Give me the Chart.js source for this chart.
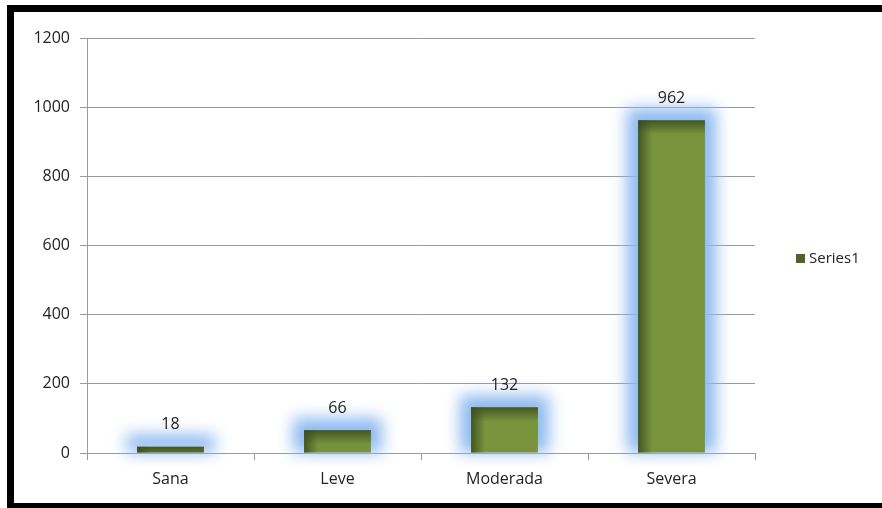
<!DOCTYPE html>
<html>
<head>
<meta charset="utf-8">
<script src="https://cdn.jsdelivr.net/npm/chart.js@4/dist/chart.umd.min.js"></script>
<style>
  html, body { margin: 0; padding: 0; background: #fff; }
  #wrap { position: relative; width: 882px; height: 508px; overflow: hidden; }
  #frame { position: absolute; left: 7px; top: 5px; width: 900px; height: 505px;
           border: 7px solid #000; box-sizing: border-box; pointer-events: none; }
  canvas { position: absolute; left: 0; top: 0; }
</style>
</head>
<body>
<div id="wrap">
  <canvas id="c" width="882" height="508"></canvas>
  <div id="frame"></div>
</div>
<script>
const categories = ['Sana', 'Leve', 'Moderada', 'Severa'];
const series1 = [18, 66, 132, 962];
const seriesName = 'Series1';
const yMax = 1200;
const yStep = 200;

const FONT = '"Open Sans", "Noto Sans", sans-serif';

// soft blue halo behind each bar
const glowPlugin = {
  id: 'glow',
  beforeDatasetsDraw(chart) {
    const ctx = chart.ctx;
    const meta = chart.getDatasetMeta(0);
    ctx.save();
    ctx.filter = 'blur(8px)';
    ctx.fillStyle = 'rgba(140,185,240,1)';
    meta.data.forEach(bar => {
      const w = bar.width, x0 = bar.x - w / 2;
      const top = Math.min(bar.y, bar.base), bot = Math.max(bar.y, bar.base);
      ctx.fillRect(x0 - 11, top - 12, w + 22, bot - top + 12);
    });
    ctx.restore();
  },
  afterDatasetsDraw(chart) {
    // darker inner shading on the left and top edges of each bar
    const ctx = chart.ctx;
    const meta = chart.getDatasetMeta(0);
    ctx.save();
    meta.data.forEach(bar => {
      const w = bar.width, x0 = bar.x - w / 2;
      const top = Math.min(bar.y, bar.base), bot = Math.max(bar.y, bar.base);
      const h = bot - top;
      const gl = ctx.createLinearGradient(x0, 0, x0 + 14, 0);
      gl.addColorStop(0, 'rgba(60,75,30,0.85)');
      gl.addColorStop(1, 'rgba(60,75,30,0)');
      ctx.fillStyle = gl;
      ctx.fillRect(x0, top, Math.min(14, w), h);
      const gt = ctx.createLinearGradient(0, top, 0, top + 14);
      gt.addColorStop(0, 'rgba(60,75,30,0.85)');
      gt.addColorStop(1, 'rgba(60,75,30,0)');
      ctx.fillStyle = gt;
      ctx.fillRect(x0, top, w, Math.min(14, h));
    });
    ctx.restore();
  }
};

// value labels above bars
const labelPlugin = {
  id: 'valueLabels',
  afterDatasetsDraw(chart) {
    const ctx = chart.ctx;
    const meta = chart.getDatasetMeta(0);
    const data = chart.data.datasets[0].data;
    ctx.save();
    ctx.font = '16px ' + FONT;
    ctx.fillStyle = '#222';
    ctx.textAlign = 'center';
    ctx.textBaseline = 'middle';
    meta.data.forEach((bar, i) => {
      ctx.fillText(String(data[i]), bar.x, bar.y - 22);
    });
    ctx.restore();
  }
};

// legend at the right side
const legendPlugin = {
  id: 'sideLegend',
  afterDraw(chart) {
    const ctx = chart.ctx;
    ctx.save();
    ctx.fillStyle = '#4F6228';
    ctx.fillRect(796, 254, 9, 9);
    ctx.font = '15px ' + FONT;
    ctx.fillStyle = '#222';
    ctx.textAlign = 'left';
    ctx.textBaseline = 'middle';
    ctx.fillText(chart.data.datasets[0].label, 809, 258.5);
    ctx.restore();
  }
};

new Chart(document.getElementById('c'), {
  type: 'bar',
  data: {
    labels: categories,
    datasets: [{
      label: seriesName,
      data: series1,
      backgroundColor: '#77933C',
      borderWidth: 0,
      barPercentage: 0.4,
      categoryPercentage: 1.0
    }]
  },
  options: {
    responsive: false,
    animation: false,
    devicePixelRatio: 1,
    layout: { padding: { left: 0, right: 127, top: 38, bottom: 0 } },
    plugins: { legend: { display: false }, tooltip: { enabled: false } },
    scales: {
      x: {
        grid: { drawOnChartArea: false, offset: true, tickLength: 7, color: '#9a9a9a' },
        border: { color: '#9a9a9a' },
        ticks: { color: '#222', font: { family: FONT, size: 16 }, padding: 10 },
        afterFit(s) { s.height = 55; }
      },
      y: {
        min: 0, max: yMax,
        ticks: {
          stepSize: yStep, color: '#222', font: { family: FONT, size: 16 }, padding: 10,
          callback: v => String(v)
        },
        grid: { color: '#9a9a9a', tickLength: 7 },
        border: { color: '#9a9a9a' },
        afterFit(s) { s.width = 87; }
      }
    }
  },
  plugins: [glowPlugin, labelPlugin, legendPlugin]
});
</script>
</body>
</html>
